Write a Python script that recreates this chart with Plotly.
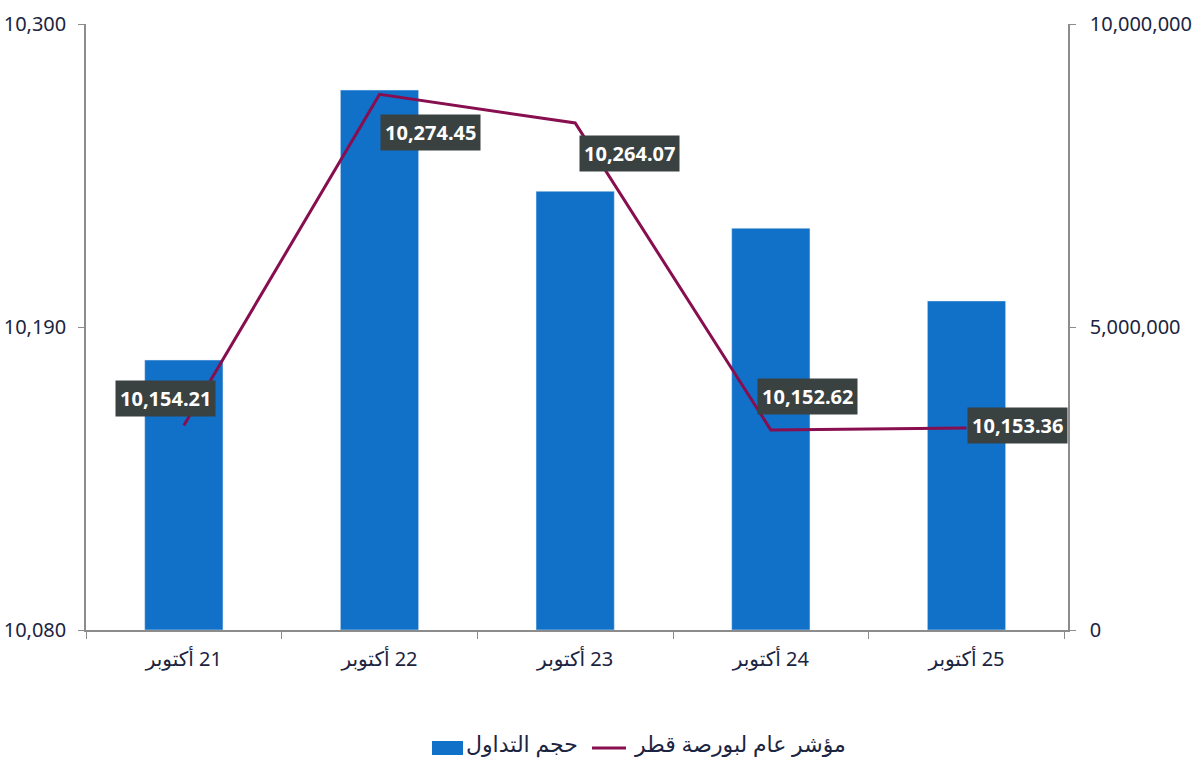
import plotly.graph_objects as go

categories = ["أكتوبر\u200e 21", "أكتوبر\u200e 22", "أكتوبر\u200e 23", "أكتوبر\u200e 24", "أكتوبر\u200e 25"]
volume = [4455000, 8910000, 7240000, 6630000, 5430000]
index_vals = [10154.21, 10274.45, 10264.07, 10152.62, 10153.36]
left_ticks = [10080, 10190, 10300]
right_ticks = [0, 5000000, 10000000]
name_volume = "حجم التداول"
name_index = "مؤشر عام لبورصة قطر"

# label offsets in pixels (dx right, dy up)
label_dx = [-18, 51, 54, 37, 51]
label_dy = [27, -38, -31, 33, 2]

BLUE = "#1170C8"
LINE = "#870E4F"
TXT = "#1b2440"
AX = "#8c8c8c"
FONT = "Noto Sans, DejaVu Sans, sans-serif"

fig = go.Figure()
fig.add_trace(go.Bar(x=categories, y=volume, name=name_volume, marker_color=BLUE,
                     width=0.4, yaxis="y", showlegend=False))
fig.add_trace(go.Scatter(x=categories, y=index_vals, name=name_index, mode="lines",
                         line=dict(color=LINE, width=3), yaxis="y2", showlegend=False))

for c, v, dx, dy in zip(categories, index_vals, label_dx, label_dy):
    fig.add_annotation(x=c, y=v, xref="x", yref="y2", text=f"<b>{v:,.2f}</b>",
                       showarrow=False, xshift=dx, yshift=dy,
                       font=dict(color="white", size=20, family=FONT),
                       bgcolor="#3a4141", borderpad=4)

W0, H0, L0, T0 = 982, 606, 86, 24
def px(x):
    return (x - L0) / W0
def py(y):
    return (T0 + H0 - y) / H0

fig.add_shape(type="rect", xref="paper", yref="paper", x0=px(432), x1=px(463),
              y0=py(755), y1=py(741), fillcolor=BLUE, line_width=0)
fig.add_shape(type="line", xref="paper", yref="paper", x0=px(592), x1=px(626),
              y0=py(748), y1=py(748), line=dict(color=LINE, width=3))
fig.add_annotation(xref="paper", yref="paper", x=px(522), y=py(760), text=name_volume,
                   showarrow=False, font=dict(size=22, color=TXT, family=FONT))
fig.add_annotation(xref="paper", yref="paper", x=px(740), y=py(760), text=name_index,
                   showarrow=False, font=dict(size=22, color=TXT, family=FONT))

fig.update_layout(
    width=1200, height=784,
    margin=dict(l=86, r=132, t=24, b=154, autoexpand=False),
    plot_bgcolor="white", paper_bgcolor="white",
    font=dict(family=FONT, color=TXT, size=20),
    xaxis=dict(showline=True, linecolor=AX, linewidth=1.5, ticks="outside",
               tickson="boundaries", ticklen=7, tickcolor=AX, showgrid=False,
               automargin=False, ticklabelstandoff=10, tickfont=dict(size=20, color=TXT)),
    yaxis=dict(side="right", range=[0, 10000000], tickvals=right_ticks,
               ticktext=[f"{v:,}" for v in right_ticks], showline=True, linecolor=AX,
               linewidth=1.5, ticks="outside", ticklen=6, tickcolor=AX, showgrid=False,
               automargin=False, ticklabelstandoff=10, zeroline=False,
               tickfont=dict(size=20, color=TXT)),
    yaxis2=dict(side="left", overlaying="y", range=[10080, 10300], tickvals=left_ticks,
                ticktext=[f"{v:,}" for v in left_ticks], showline=True, linecolor=AX,
                linewidth=1.5, ticks="outside", ticklen=6, tickcolor=AX, showgrid=False,
                automargin=False, ticklabelstandoff=8, zeroline=False,
                tickfont=dict(size=20, color=TXT)),
)

fig.write_html("out.html")
